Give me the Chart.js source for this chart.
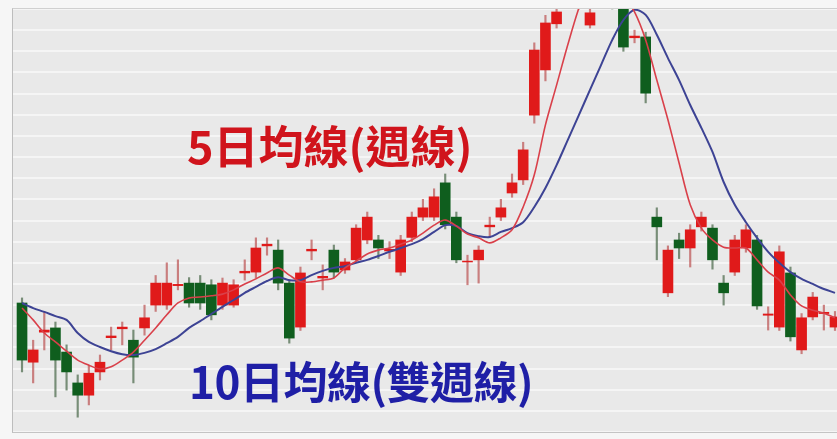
<!DOCTYPE html>
<html>
<head>
<meta charset="utf-8">
<script src="https://cdn.jsdelivr.net/npm/chart.js@4/dist/chart.umd.min.js"></script>
<style>
    body{margin:0;background:#f6f6f6;width:837px;height:439px;overflow:hidden;position:relative;}
    #frame{position:absolute;left:12px;top:8px;width:825px;height:423px;border-left:1px solid #bdbdbd;border-top:1px solid #d0d0d0;border-bottom:1px solid #c4c4c4;background:#e9e9e9;}
    #chart{display:block;}
    .label{position:absolute;font-family:"Noto Sans CJK TC","Noto Sans CJK SC",sans-serif;font-weight:bold;line-height:1;white-space:nowrap;}
    #ma5Label{left:187px;top:122px;color:#d0141c;font-size:45px;}
    #ma10Label{left:189px;top:358px;color:#1f1fa6;font-size:44px;letter-spacing:-0.5px;}
</style>
</head>
<body>
<div id="frame"><canvas id="chart" width="824" height="423"></canvas></div>
<div class="label" id="ma5Label">5日均線(週線)</div>
<div class="label" id="ma10Label">10日均線(雙週線)</div>
<script>
// daily candles (price units are arbitrary)
const opens = [30.5,16.5,23.6,24.6,18.9,11.6,8.7,14.2,22.3,24.4,21.7,24.6,30.0,30.0,34.6,35.2,35.2,34.8,30.0,30.0,
    37.6,37.8,44.0,43.0,35.2,24.8,42.8,36.4,43.0,38.3,40.7,45.4,45.4,42.8,37.8,46.0,50.8,50.8,58.9,50.8,
    40.2,40.7,48.5,50.8,56.5,59.6,74.9,85.6,96.5,101.0,101.0,96.2,108.0,106.0,101.0,93.2,93.4,50.8,32.9,45.4,
    43.5,48.5,48.2,35.2,37.8,43.5,45.4,27.6,24.8,37.6,19.4,27.2,28.0,24.8];
const closes = [17.0,19.4,24.1,17.0,14.2,8.7,13.9,16.5,22.7,24.8,17.7,27.0,35.2,35.2,34.9,30.5,30.5,27.7,35.2,34.8,
    38.0,43.5,44.4,35.2,22.2,37.6,43.2,36.8,37.8,40.2,48.2,50.8,43.5,43.2,45.4,50.8,53.0,55.6,49.0,40.7,
    40.4,43.0,48.9,53.0,58.9,66.7,90.3,96.7,99.3,106.0,108.0,99.1,103.0,101.0,91.0,93.6,80.1,48.5,43.0,43.5,
    47.8,50.8,40.7,32.9,45.4,47.8,29.8,27.9,42.6,22.5,27.0,31.9,28.3,27.2];
const highs = [31.7,21.7,28.4,26.0,20.6,13.5,15.8,18.2,24.8,26.0,24.1,30.0,37.0,40.0,40.7,36.5,37.0,36.0,36.4,36.0,
    40.7,45.9,45.9,45.4,36.0,39.0,45.4,39.5,44.2,41.0,49.0,52.0,46.5,45.0,46.5,52.0,55.0,57.5,61.0,52.0,
    41.8,44.0,50.8,55.0,61.0,68.5,92.0,98.5,102.0,108.0,110.0,100.5,110.0,108.0,103.0,95.0,94.5,53.0,44.0,47.0,
    49.0,52.0,49.0,37.0,46.5,49.0,46.5,29.6,44.0,39.0,28.0,33.0,30.0,28.5];
const lows = [14.2,11.6,19.4,8.3,9.9,3.5,6.4,12.3,19.4,20.6,11.6,22.9,28.5,29.0,33.6,29.5,29.0,26.5,29.0,29.5,
    35.9,36.4,41.8,33.6,21.0,24.0,40.7,33.6,36.4,37.5,40.0,44.5,41.0,41.0,37.0,45.0,50.0,50.0,48.0,40.0,
    34.8,35.2,46.0,50.0,55.5,58.5,73.0,83.0,95.5,100.5,100.0,95.5,101.0,100.0,90.0,92.0,77.8,40.7,32.0,41.0,
    39.0,47.5,38.5,30.0,37.0,42.5,29.0,24.1,24.0,21.5,18.5,26.5,24.1,24.0];

// moving averages as drawn in the picture
const ma5 = [29.3,26.5,23.4,21.3,19.1,17.0,15.8,14.9,15.4,17.0,18.9,21.7,24.6,27.7,30.5,31.7,31.9,32.2,32.6,33.6,
    35.0,36.2,37.6,38.8,37.1,35.5,35.5,35.9,36.4,38.8,40.4,42.1,43.0,43.5,44.4,45.4,47.0,48.9,50.1,48.7,
    46.8,45.9,44.7,45.9,47.8,53.2,60.8,72.6,82.0,91.5,100.2,106.9,111.6,109.2,103.3,99.3,92.7,83.2,73.8,63.6,
    53.7,48.2,45.4,43.7,43.5,43.5,40.7,37.8,35.9,32.4,29.8,28.8,28.1,27.0];
const ma10 = [30.5,29.3,28.4,27.4,26.5,23.4,21.3,20.1,19.1,18.4,18.2,18.7,19.6,21.0,22.5,24.6,26.2,27.9,29.6,31.2,
    32.9,34.3,35.7,36.6,35.9,35.9,37.1,38.1,38.8,39.2,40.0,40.7,41.6,42.6,43.5,44.4,45.6,47.3,48.9,48.7,
    47.0,46.3,46.1,47.3,48.2,49.6,53.2,57.7,63.1,69.0,74.9,80.9,86.8,92.7,97.4,99.8,98.6,93.9,88.4,83.2,
    77.3,71.9,66.2,59.1,53.7,49.6,45.9,42.6,40.0,37.8,36.2,35.0,33.8,32.9];

const upColor = '#e01a1a';
const downColor = '#0f5e1e';

class CandleChart{
    constructor() {
        this.$canvas = document.querySelector('#chart');
        this.draw();
    }
    isUp(i){
        return closes[i] >= opens[i];
    }
    draw(){
        const bodies = opens.map((o, i) => ({x: i, y: [o, closes[i]]}));
        const wicks = lows.map((l, i) => ({x: i, y: [l, highs[i]]}));
        const line5 = ma5.map((v, i) => ({x: i, y: v}));
        const line10 = ma10.map((v, i) => ({x: i, y: v}));
        const bodyColors = opens.map((o, i) => this.isUp(i) ? upColor : downColor);
        const wickColors = opens.map((o, i) => this.isUp(i) ? 'rgba(190,90,90,0.75)' : 'rgba(80,110,80,0.75)');

        new Chart(this.$canvas, {
            type: 'bar',
            data: {
                datasets: [
                    {
                        type: 'line',
                        data: line5,
                        borderColor: '#d9404a',
                        borderWidth: 1.6,
                        pointRadius: 0,
                        tension: 0.3,
                        order: 0,
                    },
                    {
                        type: 'line',
                        data: line10,
                        borderColor: '#3d4394',
                        borderWidth: 2,
                        pointRadius: 0,
                        tension: 0.3,
                        order: 0,
                    },
                    {
                        data: bodies,
                        backgroundColor: bodyColors,
                        barThickness: 10,
                        grouped: false,
                        order: 1,
                    },
                    {
                        data: wicks,
                        backgroundColor: wickColors,
                        barThickness: 1.5,
                        grouped: false,
                        order: 2,
                    },
                ]
            },
            options: {
                responsive: false,
                animation: false,
                layout: {padding: 0},
                plugins: {legend: {display: false}, tooltip: {enabled: false}},
                scales: {
                    x: {
                        type: 'linear',
                        min: -0.81,
                        max: 73.18,
                        offset: false,
                        display: false,
                    },
                    y: {
                        min: 0,
                        max: 100,
                        ticks: {display: false, stepSize: 5},
                        border: {display: false},
                        grid: {drawTicks: false, color: 'rgba(255,255,255,0.55)', lineWidth: 2},
                    }
                }
            }
        });
    }
}
window.addEventListener("load", () => {
    new CandleChart();
})
</script>
</body>
</html>
